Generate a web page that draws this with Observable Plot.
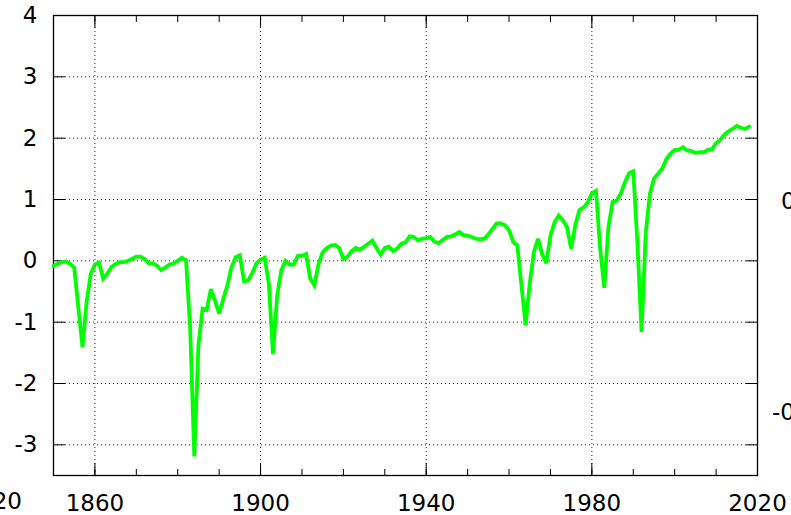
<!DOCTYPE html>
<html>
<head>
<meta charset="utf-8">
<script src="https://cdn.jsdelivr.net/npm/d3@7"></script>
<script src="https://cdn.jsdelivr.net/npm/@observablehq/plot@0.6"></script>
<style>
  html, body { margin: 0; padding: 0; background: #fff; }
  #wrap { position: relative; width: 791px; height: 515px; overflow: hidden; font-family: "DejaVu Sans", sans-serif; }
  .clip { position: absolute; font-size: 23px; line-height: 23px; color: #000; white-space: nowrap; }
</style>
</head>
<body>
<div id="wrap"></div>
<script>
const startYear = 1850;
const values = [
  -0.08, -0.05, -0.02, -0.01, -0.05, -0.11, -0.76, -1.41, -0.67, -0.21,
  -0.06, -0.03, -0.29, -0.21, -0.10, -0.05, -0.02, -0.02, 0.00, 0.03,
  0.07, 0.07, 0.03, -0.04, -0.04, -0.08, -0.15, -0.11, -0.06, -0.04,
  0.00, 0.05, 0.01, -1.10, -3.19, -1.38, -0.78, -0.80, -0.46, -0.65,
  -0.86, -0.62, -0.40, -0.10, 0.06, 0.09, -0.33, -0.32, -0.20, -0.04,
  0.02, 0.05, -0.37, -1.52, -0.57, -0.16, 0.00, -0.06, -0.06, 0.08,
  0.08, 0.11, -0.29, -0.40, -0.05, 0.14, 0.21, 0.25, 0.26, 0.21,
  0.03, 0.07, 0.16, 0.21, 0.18, 0.23, 0.28, 0.33, 0.21, 0.10,
  0.21, 0.23, 0.16, 0.20, 0.28, 0.30, 0.40, 0.39, 0.33, 0.36,
  0.37, 0.39, 0.31, 0.29, 0.34, 0.39, 0.40, 0.43, 0.47, 0.42,
  0.41, 0.39, 0.36, 0.35, 0.36, 0.43, 0.52, 0.61, 0.61, 0.58,
  0.50, 0.31, 0.25, -0.40, -1.05, -0.37, 0.14, 0.36, 0.11, -0.04,
  0.41, 0.63, 0.74, 0.66, 0.55, 0.20, 0.58, 0.83, 0.87, 0.95,
  1.10, 1.14, 0.20, -0.44, 0.55, 0.96, 0.98, 1.10, 1.28, 1.43,
  1.46, 0.30, -1.16, 0.44, 1.09, 1.34, 1.42, 1.50, 1.66, 1.75,
  1.81, 1.81, 1.85, 1.80, 1.79, 1.76, 1.77, 1.77, 1.81, 1.82,
  1.92, 1.97, 2.06, 2.11, 2.15, 2.20, 2.17, 2.15, 2.19
];
const xMajorTicks = [1860, 1900, 1940, 1980, 2020];
const xMinorTicks = [1850, 1860, 1870, 1880, 1890, 1900, 1910, 1920, 1930, 1940, 1950, 1960, 1970, 1980, 1990, 2000, 2010, 2020];
const xGrid = [1860, 1900, 1940, 1980];
const yTicks = [-3, -2, -1, 0, 1, 2, 3, 4];
const yGrid = [-3, -2, -1, 0, 1, 2, 3];

const data = values.map((v, i) => ({year: startYear + i, value: v}));

const fmtNum = d => (d < 0 ? "-" + Math.abs(d) : String(d));
const gridStyle = {stroke: "#000", strokeWidth: 1, strokeDasharray: "1,3", strokeOpacity: 0.85};

const chart = Plot.plot({
  width: 791,
  height: 515,
  marginTop: 15,
  marginRight: 34,
  marginBottom: 40,
  marginLeft: 53,
  style: {fontFamily: "DejaVu Sans, sans-serif", fontSize: "23px", background: "white", color: "black"},
  x: {domain: [1850, 2020]},
  y: {domain: [-3.5, 4]},
  marks: [
    Plot.ruleX(xGrid, gridStyle),
    Plot.ruleY(yGrid, gridStyle),
    Plot.axisX(xMinorTicks, {anchor: "bottom", tickSize: -6, tickFormat: () => "", label: null}),
    Plot.axisX(xMajorTicks, {anchor: "bottom", tickSize: -12, tickFormat: () => "", label: null}),
    Plot.axisX(xMinorTicks, {anchor: "top", tickSize: -6, tickFormat: () => "", label: null}),
    Plot.axisX(xMajorTicks, {anchor: "top", tickSize: -12, tickFormat: () => "", label: null}),
    Plot.axisY(yTicks, {anchor: "left", tickSize: -12, tickFormat: () => "", label: null}),
    Plot.axisY(yTicks, {anchor: "right", tickSize: -12, tickFormat: () => "", label: null}),
    Plot.axisX(xMajorTicks, {anchor: "bottom", tickSize: 0, tickPadding: 19, tickFormat: d => String(d), label: null, fontSize: 23}),
    Plot.axisY(yTicks, {anchor: "left", tickSize: 0, tickPadding: 16, tickFormat: fmtNum, label: null, fontSize: 23}),
    Plot.frame({stroke: "#000", strokeWidth: 1.3}),
    Plot.line(data, {x: "year", y: "value", stroke: "#00ff00", strokeWidth: 3.8, strokeLinejoin: "miter", strokeMiterlimit: 3})
  ]
});

const wrap = document.getElementById("wrap");
wrap.appendChild(chart);

// Labels of neighbouring panels that the reference crop cuts through
const clipped = [
  {text: "2020", style: "right:769px; top:490px;"},
  {text: "0.5", style: "left:781px; top:190px;"},
  {text: "-0.5", style: "left:772px; top:401px;"}
];
for (const c of clipped) {
  const s = document.createElement("span");
  s.className = "clip";
  s.setAttribute("style", c.style);
  s.textContent = c.text;
  wrap.appendChild(s);
}
</script>
</body>
</html>
